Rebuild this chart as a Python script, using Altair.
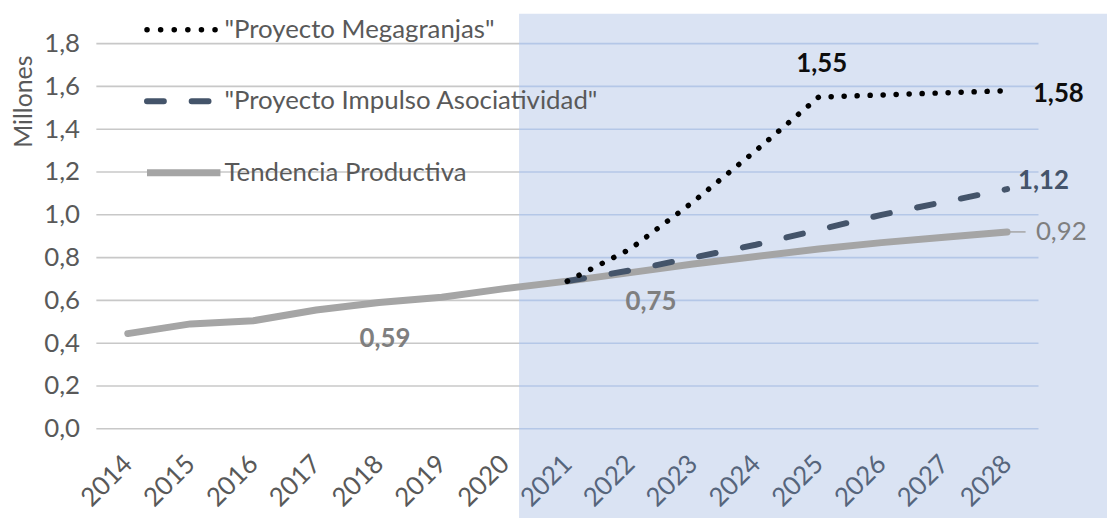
import altair as alt
import pandas as pd

# ---------------- data ----------------
anios = [2014, 2015, 2016, 2017, 2018, 2019, 2020, 2021, 2022, 2023, 2024, 2025, 2026, 2027, 2028]
tendencia = [0.445, 0.49, 0.505, 0.555, 0.59, 0.615, 0.655, 0.69, 0.73, 0.77, 0.805, 0.84, 0.87, 0.895, 0.92]

anios_proy = [2021, 2022, 2023, 2024, 2025, 2026, 2027, 2028]
megagranjas = [0.69, 0.84, 1.06, 1.30, 1.55, 1.56, 1.57, 1.58]
impulso = [0.69, 0.74, 0.80, 0.86, 0.93, 1.00, 1.06, 1.12]

series = ['"Proyecto Megagranjas"', '"Proyecto Impulso Asociatividad"', "Tendencia Productiva"]

y_ticks = [0.0, 0.2, 0.4, 0.6, 0.8, 1.0, 1.2, 1.4, 1.6, 1.8]
x_ticks = anios
x_dominio = [2013.5, 2028.5]
inicio_proyeccion = 2020.23

etiquetas_texto = ["0,59", "0,75", "1,55", "1,58", "1,12", "0,92"]
etiquetas_anio = [2018, 2022, 2025, 2028, 2028, 2028]
etiquetas_valor = [0.59, 0.73, 1.55, 1.58, 1.12, 0.92]

# ---------------- style ----------------
FONT = "Lato"
FS = 26
W, H = 949, 388
GRIS_TXT = "#595959"


def x_enc():
    return alt.X(
        "anio:Q",
        title="",
        scale=alt.Scale(domain=x_dominio, nice=False, zero=False),
        axis=alt.Axis(
            values=x_ticks, format="d", labelAngle=315, labelAlign="right",
            labelBaseline="middle", labelPadding=31, grid=False, domain=False,
            ticks=False, labelFont=FONT, labelFontSize=FS, zindex=2,
            labelColor=alt.expr("datum.value > 2020.5 ? '#56657c' : '#595959'"),
            labelOverlap=False, labelFlush=False,
        ),
    )


def y_enc():
    return alt.Y(
        "valor:Q",
        title="Millones",
        scale=alt.Scale(domain=[0, 1.8], nice=False, zero=True),
        axis=alt.Axis(
            values=y_ticks,
            labelExpr="replace(format(datum.value, '.1f'), '.', ',')",
            grid=False, domain=False, ticks=False, labelPadding=17, zindex=2,
            labelFont=FONT, labelFontSize=FS, labelColor=GRIS_TXT,
            titleFont=FONT, titleFontSize=FS - 1, titleColor=GRIS_TXT,
            titleFontWeight="normal", titleAngle=270, titleX=-73, titleY=58,
            titleAlign="center", titleBaseline="middle",
        ),
    )


# ---------------- tables ----------------
df_tend = pd.DataFrame({"anio": anios, "valor": tendencia})
df_mega = pd.DataFrame({"anio": anios_proy, "valor": megagranjas})
df_imp = pd.DataFrame({"anio": anios_proy, "valor": impulso})
df_grid_hist = pd.DataFrame({"valor": y_ticks, "anio": [x_dominio[0]] * len(y_ticks),
                             "anio_fin": [inicio_proyeccion] * len(y_ticks)})
df_grid_proy = pd.DataFrame({"valor": y_ticks, "anio": [inicio_proyeccion] * len(y_ticks),
                             "anio_fin": [x_dominio[1]] * len(y_ticks)})
df_sombra = pd.DataFrame({"anio": [inicio_proyeccion]})
df_lab = pd.DataFrame({"anio": etiquetas_anio, "valor": etiquetas_valor, "texto": etiquetas_texto})

# ---------------- layers ----------------
sombra = alt.Chart(df_sombra).mark_rect(color="#DAE3F3").encode(
    x=x_enc(), x2=alt.value(1040), y=alt.value(-30), y2=alt.value(520)
)

grid_hist = alt.Chart(df_grid_hist).mark_rule(color="#C8C8C8", strokeWidth=1.6).encode(
    x=x_enc(), x2="anio_fin:Q", y=y_enc()
)
grid_proy = alt.Chart(df_grid_proy).mark_rule(color="#B4C7E7", strokeWidth=1.6).encode(
    x=x_enc(), x2="anio_fin:Q", y=y_enc()
)

linea_tend = alt.Chart(df_tend).mark_line(
    color="#A5A5A5", strokeWidth=7, strokeCap="round", strokeJoin="round"
).encode(x=x_enc(), y=y_enc())

linea_imp = alt.Chart(df_imp).mark_line(
    color="#44546A", strokeWidth=6, strokeDash=[17, 28], strokeCap="round"
).encode(x=x_enc(), y=y_enc())

linea_mega = alt.Chart(df_mega).mark_line(
    color="#000000", strokeWidth=5.5, strokeDash=[0.1, 13], strokeCap="round"
).encode(x=x_enc(), y=y_enc())


def etiqueta(i, color, weight, align, dx, dy):
    return alt.Chart(df_lab.iloc[[i]]).mark_text(
        font=FONT, fontSize=FS, color=color, fontWeight=weight,
        align=align, baseline="middle", dx=dx, dy=dy
    ).encode(x=x_enc(), y=y_enc(), text="texto:N")


etiquetas = [
    etiqueta(0, "#7F7F7F", "bold", "center", 6, 37),
    etiqueta(1, "#7F7F7F", "bold", "center", 21, 30),
    etiqueta(2, "#0D0D0D", "bold", "center", 3, -33),
    etiqueta(3, "#0D0D0D", "bold", "left", 26, 3),
    etiqueta(4, "#44546A", "bold", "left", 11, -8),
    etiqueta(5, "#7F7F7F", "normal", "left", 29, 0),
]

lider = alt.Chart(df_lab.iloc[[5]]).mark_rule(color="#A5A5A5", strokeWidth=1.5).encode(
    x=x_enc(), x2=alt.value(936), y=y_enc()
)

# legend (manual)
def leyenda_item(nombre, y, **estilo):
    d = pd.DataFrame({"serie": [nombre]})
    muestra = alt.Chart(d).mark_rule(**estilo).encode(
        x=alt.value(51), x2=alt.value(125), y=alt.value(y)
    )
    texto = alt.Chart(d).mark_text(
        font=FONT, fontSize=FS, color=GRIS_TXT, align="left", baseline="middle"
    ).encode(x=alt.value(129), y=alt.value(y), text="serie:N")
    return [muestra, texto]


leyenda = (
    leyenda_item(series[0], -14, color="#000000", strokeWidth=5.5, strokeDash=[0.1, 13.6], strokeCap="round")
    + leyenda_item(series[1], 58, color="#44546A", strokeWidth=6, strokeDash=[17, 28], strokeCap="round")
    + leyenda_item(series[2], 130, color="#A5A5A5", strokeWidth=7)
)

chart = alt.layer(
    sombra, grid_hist, grid_proy, linea_tend, linea_imp, linea_mega, lider, *etiquetas, *leyenda
).properties(
    width=W, height=H,
    autosize=alt.AutoSizeParams(type="none"),
    padding={"left": 89, "top": 34, "right": 69, "bottom": 88},
).configure_view(stroke=None)

chart.save("out.html", embed_options={"renderer": "svg", "actions": False})
